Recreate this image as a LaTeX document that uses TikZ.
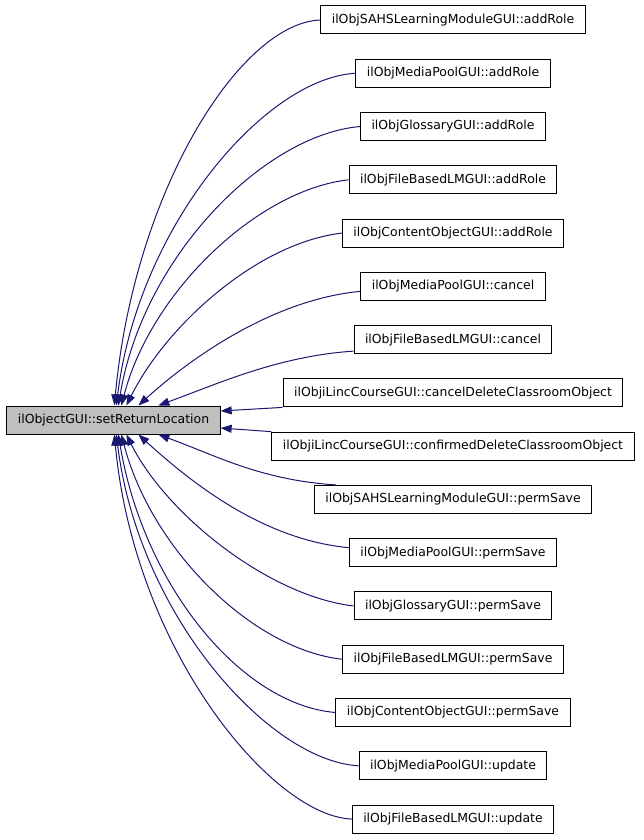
\documentclass[tikz,border=0pt]{standalone}
\usepackage{fontspec}
\setmainfont{DejaVu Sans}
\usetikzlibrary{positioning, arrows.meta}
\definecolor{edgeblue}{HTML}{191970}

\begin{document}
\begin{tikzpicture}[x=1pt, y=-1pt]
\tikzset{
font=\fontsize{12.45}{15}\selectfont, % text size of all boxes
node distance=53.27pt, % spacing of the caller boxes, centre to centre
func/.style={draw=black, fill=white, line width=1pt, inner xsep=11pt, inner ysep=0pt, minimum height=28pt}, % one box per caller
mainfunc/.style={func, fill=gray!50}, % the called function
call/.style={draw=edgeblue, line width=1pt, -{Triangle[length=11pt, width=8pt]}}, % caller -> callee
}
\useasboundingbox (0,0) rectangle (643,840);

	\node[mainfunc] (main) at (113.5,420) {ilObjectGUI::setReturnLocation};
	\node[func] (r1) at (453,20) {ilObjSAHSLearningModuleGUI::addRole};
	\node[func, below of=r1] (r2) {ilObjMediaPoolGUI::addRole};
	\node[func, below of=r2] (r3) {ilObjGlossaryGUI::addRole};
	\node[func, below of=r3] (r4) {ilObjFileBasedLMGUI::addRole};
	\node[func, below of=r4] (r5) {ilObjContentObjectGUI::addRole};
	\node[func, below of=r5] (r6) {ilObjMediaPoolGUI::cancel};
	\node[func, below of=r6] (r7) {ilObjFileBasedLMGUI::cancel};
	\node[func, below of=r7] (r8) {ilObjiLincCourseGUI::cancelDeleteClassroomObject};
	\node[func, below of=r8] (r9) {ilObjiLincCourseGUI::confirmedDeleteClassroomObject};
	\node[func, below of=r9] (r10) {ilObjSAHSLearningModuleGUI::permSave};
	\node[func, below of=r10] (r11) {ilObjMediaPoolGUI::permSave};
	\node[func, below of=r11] (r12) {ilObjGlossaryGUI::permSave};
	\node[func, below of=r12] (r13) {ilObjFileBasedLMGUI::permSave};
	\node[func, below of=r13] (r14) {ilObjContentObjectGUI::permSave};
	\node[func, below of=r14] (r15) {ilObjMediaPoolGUI::update};
	\node[func, below of=r15] (r16) {ilObjFileBasedLMGUI::update};

	% callers above
	\draw[call] (r1.west) .. controls +(-80,3) and +(20,-215) .. ([xshift=108pt]main.north west);
	\draw[call] (r2.west) .. controls +(-90,5) and +(22,-180) .. ([xshift=110pt]main.north west);
	\draw[call] (r3.west) .. controls +(-95,8) and +(25,-150) .. ([xshift=112pt]main.north west);
	\draw[call] (r4.west) .. controls +(-90,10) and +(30,-115) .. ([xshift=115pt]main.north west);
	\draw[call] (r5.west) .. controls +(-85,10) and +(40,-80) .. ([xshift=120pt]main.north west);
	\draw[call] ([yshift=-5pt]r6.west) .. controls +(-85,8) and +(55,-50) .. ([xshift=132pt]main.north west);
	\draw[call] ([yshift=3pt]r7.south west) .. controls +(-75,5) and +(60,-22) .. ([xshift=152pt]main.north west);
	% callers beside
	\draw[call] (r8.south west) -- ([yshift=9pt]main.east);
	\draw[call] (r9.north west) -- ([yshift=-8pt]main.east);
	% callers below
	\draw[call] ([xshift=22pt]r10.north west) .. controls +(-75,-5) and +(60,22) .. ([xshift=152pt]main.south west);
	\draw[call] ([yshift=5pt]r11.west) .. controls +(-85,-8) and +(55,50) .. ([xshift=132pt]main.south west);
	\draw[call] (r12.west) .. controls +(-85,-10) and +(40,80) .. ([xshift=120pt]main.south west);
	\draw[call] (r13.west) .. controls +(-90,-10) and +(30,115) .. ([xshift=115pt]main.south west);
	\draw[call] (r14.west) .. controls +(-95,-8) and +(25,150) .. ([xshift=112pt]main.south west);
	\draw[call] (r15.west) .. controls +(-90,-5) and +(22,180) .. ([xshift=110pt]main.south west);
	\draw[call] (r16.west) .. controls +(-80,-3) and +(20,215) .. ([xshift=108pt]main.south west);
\end{tikzpicture}
\end{document}
